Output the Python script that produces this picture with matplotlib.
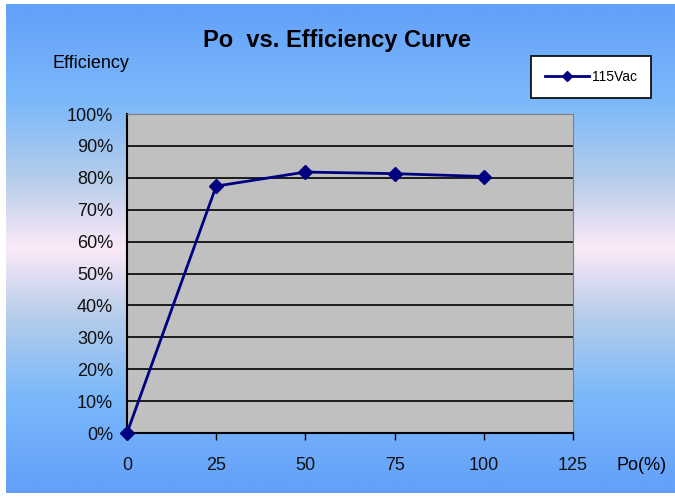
import matplotlib.pyplot as plt
import matplotlib.colors as mcolors
import numpy as np

# data
po = [0, 25, 50, 75, 100]
efficiency = [0.0, 77.4, 81.8, 81.3, 80.4]
x_ticks = [0, 25, 50, 75, 100, 125]
y_ticks = list(range(0, 101, 10))

fig = plt.figure(figsize=(6.75, 4.97), dpi=100)
fig.patch.set_facecolor("white")

# background gradient (blue - pink - blue)
bg = fig.add_axes([6 / 675, 4 / 497, 669 / 675, 489 / 497])
bg.set_zorder(-10)
cmap = mcolors.LinearSegmentedColormap.from_list(
    "bg",
    [(0.0, "#62a0fa"), (0.2, "#7cb8fa"), (0.36, "#b6cdea"),
     (0.5, "#fbe9f8"), (0.64, "#b6cdea"), (0.8, "#7cb8fa"), (1.0, "#62a0fa")])
grad = np.linspace(0, 1, 256).reshape(-1, 1)
bg.imshow(grad, aspect="auto", cmap=cmap, extent=[0, 1, 0, 1], origin="upper")
bg.axis("off")

# plot area
ax = fig.add_axes([127 / 675, 1 - 433 / 497, 446 / 675, 319 / 497])
ax.set_facecolor("#c0c0c0")
ax.plot(po, efficiency, color="#000080", linewidth=2, marker="D",
        markersize=7, label="115Vac", clip_on=False, zorder=5)

ax.set_xlim(0, 125)
ax.set_ylim(0, 100)
ax.set_xticks(x_ticks)
ax.set_yticks(y_ticks)
ax.set_yticklabels([f"{v}%" for v in y_ticks])
ax.yaxis.grid(True, color="black", linewidth=1.2)
ax.set_axisbelow(True)
ax.tick_params(axis="x", length=5, width=1, color="black", pad=12, labelsize=13)
ax.tick_params(axis="y", length=0, pad=10, labelsize=13)
for lbl in ax.get_xticklabels() + ax.get_yticklabels():
    lbl.set_family("Liberation Sans")
    lbl.set_color("#111111")

ax.spines["left"].set_color("black")
ax.spines["bottom"].set_color("black")
ax.spines["left"].set_linewidth(1.5)
ax.spines["bottom"].set_linewidth(1.5)
ax.spines["top"].set_color("#808080")
ax.spines["right"].set_color("#808080")

fig.text(337 / 675, 1 - 40 / 497, "Po  vs. Efficiency Curve", ha="center",
         va="center", fontsize=17, fontweight="bold", family="Liberation Sans")
fig.text(52 / 675, 1 - 63 / 497, "Efficiency", ha="left", va="center",
         fontsize=13, family="Liberation Sans")
fig.text(642 / 675, 1 - 466 / 497, "Po(%)", ha="center", va="center",
         fontsize=13, family="Liberation Sans")

leg = fig.legend(loc="center", bbox_to_anchor=(591 / 675, 1 - 77 / 497),
                 frameon=True, fancybox=False, edgecolor="black",
                 facecolor="white", framealpha=1, markerscale=0.75,
                 prop={"family": "Liberation Sans", "size": 10},
                 handlelength=3.2, borderpad=1.0, borderaxespad=0,
                 handletextpad=0.25)
leg.get_frame().set_linewidth(1.2)

fig.savefig("out.png", dpi=100)
